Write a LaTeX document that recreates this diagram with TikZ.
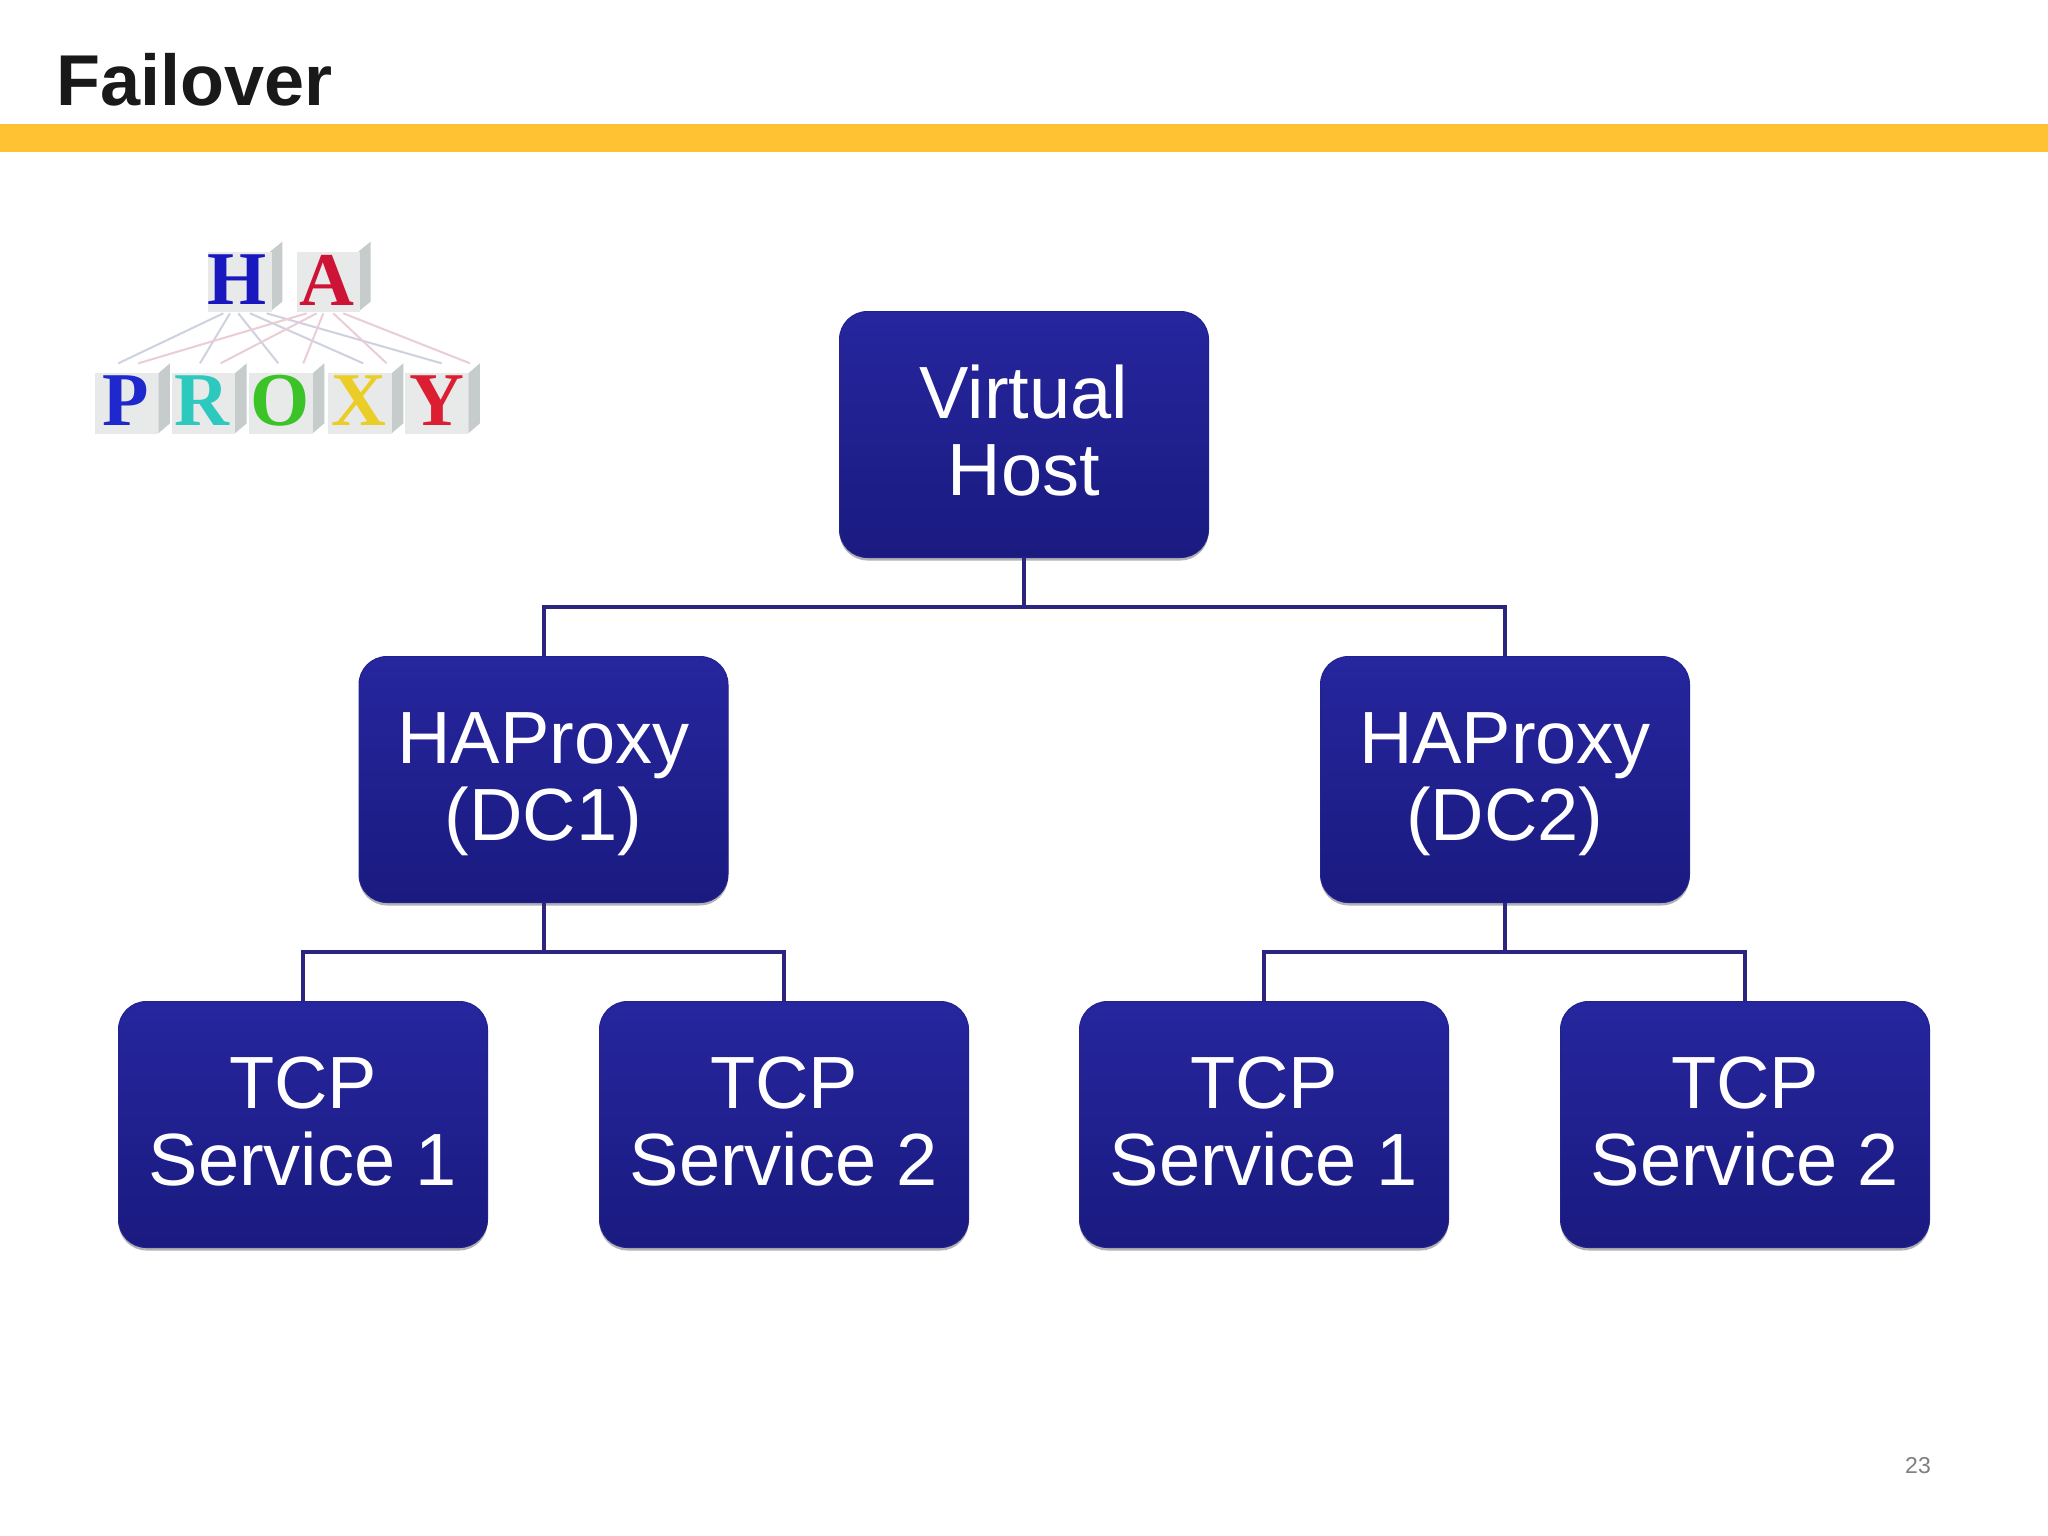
\documentclass[tikz,border=0pt]{standalone}
\usepackage{fontspec}
\setmainfont{Liberation Sans}
\newfontfamily\logofont{Liberation Serif}[BoldFont={Liberation Serif Bold}]
\usetikzlibrary{shadows}
\definecolor{boxtop}{HTML}{26269E}
\definecolor{boxbot}{HTML}{1A1A80}
\definecolor{boxedge}{HTML}{22228F}
\definecolor{linkc}{HTML}{2B2480}
\definecolor{barc}{HTML}{FFC233}
\definecolor{cubef}{HTML}{E8EAEA}
\definecolor{cubes}{HTML}{C6CBCB}
\definecolor{logoh}{HTML}{CDD2DE}
\definecolor{logoa}{HTML}{EBCDD5}
\newcommand{\boxlines}[2]{\rule{0pt}{60pt}#1\\#2\rule[-16pt]{0pt}{16pt}}
\tikzset{
  box/.style={rectangle,rounded corners=28pt,minimum width=369pt,minimum height=246pt,inner sep=0pt,
    top color=boxtop,bottom color=boxbot,draw=boxedge,line width=1pt,text=white,align=center,
    font=\fontsize{74}{77}\selectfont,
    drop shadow={shadow xshift=0pt,shadow yshift=-3pt,opacity=.3,fill=black}},
  link/.style={draw=linkc,line width=4pt},
  cubefront/.style={fill=cubef,draw=none},
  cubeside/.style={fill=cubes,draw=none},
  hline/.style={draw=logoh,line width=2pt},
  aline/.style={draw=logoa,line width=2pt},
  letter/.style={inner sep=0pt,font=\logofont\bfseries\fontsize{76}{76}\selectfont},
}
\begin{document}
\begin{tikzpicture}[x=1pt,y=-1pt]
\useasboundingbox[fill=white] (0,0) rectangle (2048,1536);
\fill[barc] (0,124) rectangle (2048,152);
\node[anchor=base west,inner sep=0pt,text=black!90,font=\bfseries\fontsize{72}{72}\selectfont] (title) at (56,106) {Failover};
\node[anchor=base east,inner sep=0pt,text=black!50,font=\fontsize{23}{23}\selectfont] (page) at (1931,1473) {23};

% logo
\begin{scope}[shift={(60,210)},x=0.3333pt,y=-0.3333pt]
  \foreach \xa in {445,710}{
    \fill[cubeside] (\xa+185,125) -- (\xa+222,95) -- (\xa+222,275) -- (\xa+185,305) -- cycle;
    \fill[cubefront] (\xa,125) rectangle (\xa+190,305);
  }
  \foreach \xa in {105,335,568,805,1035}{
    \fill[cubeside] (\xa+190,490) -- (\xa+225,460) -- (\xa+225,640) -- (\xa+190,670) -- cycle;
    \fill[cubefront] (\xa,490) rectangle (\xa+190,672);
  }
  \foreach \sx/\ex in {490/175,510/420,535/655,570/910,620/1145}{
    \coordinate (hs) at (\sx,310); \coordinate (he) at (\ex,460);
    \draw[hline] (hs) -- (he);}
  \foreach \sx/\ex in {740/235,770/482,790/730,820/980,850/1230}{
    \coordinate (as) at (\sx,310); \coordinate (ae) at (\ex,460);
    \draw[aline] (as) -- (ae);}
  \node[letter,text={rgb,255:red,24;green,24;blue,190}] (lH) at (532,210) {H};
  \node[letter,text={rgb,255:red,205;green,20;blue,55}] (lA) at (800,210) {A};
  \node[letter,text={rgb,255:red,30;green,40;blue,205}] (lP) at (196,572) {P};
  \node[letter,text={rgb,255:red,45;green,200;blue,190}] (lR) at (425,572) {R};
  \node[letter,text={rgb,255:red,60;green,195;blue,40}] (lO) at (660,572) {O};
  \node[letter,text={rgb,255:red,235;green,205;blue,40}] (lX) at (897,572) {X};
  \node[letter,text={rgb,255:red,220;green,30;blue,50}] (lY) at (1130,572) {Y};
\end{scope}

% boxes
\node[box] (vh) at (1024,434.5) {\boxlines{Virtual}{Host}};
\node[box] (dc1) at (543.5,779.5) {\boxlines{HAProxy}{(DC1)}};
\node[box] (dc2) at (1505,779.5) {\boxlines{HAProxy}{(DC2)}};
\node[box] (s1) at (303,1124.5) {\boxlines{TCP}{Service 1}};
\node[box] (s2) at (784,1124.5) {\boxlines{TCP}{Service 2}};
\node[box] (s3) at (1264,1124.5) {\boxlines{TCP}{Service 1}};
\node[box] (s4) at (1745,1124.5) {\boxlines{TCP}{Service 2}};

% connectors
\coordinate (f0) at (1024,607);
\coordinate (f1) at (543.5,952);
\coordinate (f2) at (1505,952);
\draw[link] (vh.south) -- (f0);
\draw[link] (dc1.north) |- (f0) -| (dc2.north);
\draw[link] (dc1.south) -- (f1);
\draw[link] (s1.north) |- (f1) -| (s2.north);
\draw[link] (dc2.south) -- (f2);
\draw[link] (s3.north) |- (f2) -| (s4.north);
\end{tikzpicture}
\end{document}
